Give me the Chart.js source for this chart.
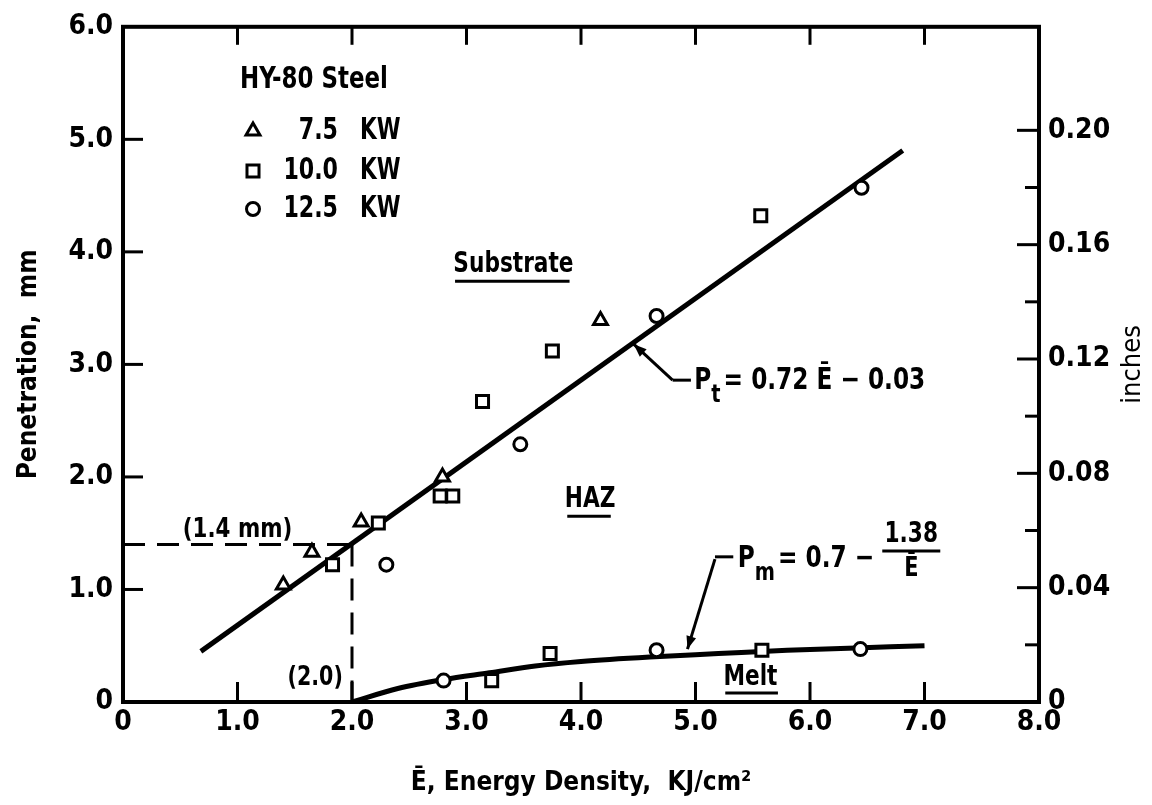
<!DOCTYPE html>
<html><head><meta charset="utf-8">
<script src="https://cdn.jsdelivr.net/npm/chart.js@4.4.1/dist/chart.umd.min.js"></script>
<style>html,body{margin:0;padding:0;background:#fff}#wrap{width:1152px;height:805px;position:relative}</style>
</head><body><div id="wrap"><canvas id="c" width="1152" height="805"></canvas></div>
<script>
// ---- data ----
const xTickValues = [0, 1, 2, 3, 4, 5, 6, 7, 8];
const yTickValues = [0, 1, 2, 3, 4, 5, 6];
const inchLabelTicks = [0, 0.04, 0.08, 0.12, 0.16, 0.20];
const inchMinorTicks = [0.02, 0.06, 0.10, 0.14, 0.18];

const triE = [1.40, 1.65, 2.08, 2.79, 4.17];
const triP = [1.04, 1.33, 1.60, 2.00, 3.39];
const sqE  = [1.83, 2.23, 2.77, 2.88, 3.14, 3.75, 5.57, 3.22, 3.73, 5.58];
const sqP  = [1.22, 1.59, 1.83, 1.83, 2.67, 3.12, 4.32, 0.19, 0.43, 0.46];
const cirE = [2.30, 3.47, 4.66, 6.45, 2.80, 4.66, 6.44];
const cirP = [1.22, 2.29, 3.43, 4.57, 0.19, 0.46, 0.47];

const fitTE = [0.68, 6.81];
const fitTP = [0.45, 4.90];
const fitME = [2.0, 2.4, 2.8, 3.2, 3.6, 4.0, 4.6, 5.2, 5.8, 6.4, 7.0];
const fitMP = [0.00, 0.12, 0.20, 0.26, 0.32, 0.36, 0.40, 0.43, 0.46, 0.48, 0.50];

const legendTitle = 'HY-80 Steel';
const legendNums = ['7.5', '10.0', '12.5'];
const legendUnit = 'KW';
const MM_PER_IN = 25.4;

// ---- helpers ----
const FONT = '"Liberation Sans Narrow", "DejaVu Sans Condensed", "Roboto", sans-serif';
const zip = (a, b) => a.map((v, i) => ({x: v, y: b[i]}));
const fmt1 = v => v === 0 ? '0' : v.toFixed(1);

function markerPath(ctx, style, x, y, r) {
  ctx.beginPath();
  if (style === 'triangle') {
    ctx.moveTo(x, y - r);
    ctx.lineTo(x + r * 0.866, y + r * 0.5);
    ctx.lineTo(x - r * 0.866, y + r * 0.5);
    ctx.closePath();
  } else if (style === 'rect') {
    const s = r * Math.SQRT1_2;
    ctx.rect(x - s, y - s, 2 * s, 2 * s);
  } else {
    ctx.arc(x, y, r, 0, Math.PI * 2);
  }
}

const decor = {
  id: 'decor',
  afterDraw(chart) {
    const {ctx, chartArea: a, scales} = chart;
    const X = v => scales.x.getPixelForValue(v);
    const Y = v => scales.y.getPixelForValue(v);
    const Y2 = v => scales.y2.getPixelForValue(v);
    const line = (x1, y1, x2, y2) => { ctx.beginPath(); ctx.moveTo(x1, y1); ctx.lineTo(x2, y2); ctx.stroke(); };
    // condensed text: horizontal scale k
    const text = (s, x, y, size, align, k) => {
      k = k || 0.86;
      ctx.save();
      ctx.font = 'bold ' + size + 'px ' + FONT;
      ctx.textAlign = align || 'left';
      ctx.textBaseline = 'middle';
      ctx.translate(x, y);
      ctx.scale(k, 1);
      ctx.fillText(s, 0, 0);
      const w = ctx.measureText(s).width * k;
      ctx.restore();
      return w;
    };
    const arrow = (x1, y1, x2, y2) => {
      line(x1, y1, x2, y2);
      const ang = Math.atan2(y2 - y1, x2 - x1), L = 13, W = 5;
      ctx.beginPath();
      ctx.moveTo(x2, y2);
      ctx.lineTo(x2 - L * Math.cos(ang) + W * Math.sin(ang), y2 - L * Math.sin(ang) - W * Math.cos(ang));
      ctx.lineTo(x2 - L * Math.cos(ang) - W * Math.sin(ang), y2 - L * Math.sin(ang) + W * Math.cos(ang));
      ctx.closePath(); ctx.fill();
    };
    ctx.save();
    ctx.strokeStyle = '#000'; ctx.fillStyle = '#000';

    // frame
    ctx.lineWidth = 4;
    ctx.strokeRect(a.left, a.top, a.right - a.left, a.bottom - a.top);

    // inward ticks
    ctx.lineWidth = 3;
    xTickValues.slice(1, -1).forEach(v => {
      line(X(v), a.bottom, X(v), a.bottom - 20);
      line(X(v), a.top, X(v), a.top + 18);
    });
    yTickValues.slice(1, -1).forEach(v => line(a.left, Y(v), a.left + 20, Y(v)));
    inchLabelTicks.slice(1).forEach(v => line(a.right, Y2(v), a.right - 22, Y2(v)));
    inchMinorTicks.forEach(v => line(a.right, Y2(v), a.right - 14, Y2(v)));

    // right axis title
    ctx.save();
    ctx.translate(1133, (a.top + a.bottom) / 2);
    ctx.rotate(-Math.PI / 2);
    ctx.font = '27px ' + FONT;
    ctx.textAlign = 'center'; ctx.textBaseline = 'middle';
    ctx.fillText('inches', 0, 0);
    ctx.restore();

    // dashed guide lines (1.4 mm at 2.0)
    ctx.lineWidth = 3;
    ctx.setLineDash([22, 12]);
    line(X(0), Y(1.4), X(2.0), Y(1.4));
    line(X(2.0), Y(1.4), X(2.0), Y(0));
    ctx.setLineDash([]);
    text('(1.4 mm)', X(1.0), Y(1.53), 27, 'center', 0.88);
    text('(2.0)', X(1.92), Y(0.21), 26, 'right', 0.88);

    // region labels with underline
    const under = (s, cx, cy, uy, x1, x2) => {
      text(s, X(cx), Y(cy), 28, 'center', 0.86);
      ctx.lineWidth = 3;
      line(X(x1), Y(uy), X(x2), Y(uy));
    };
    under('Substrate', 3.41, 3.89, 3.74, 2.90, 3.90);
    under('HAZ', 4.08, 1.80, 1.65, 3.88, 4.26);
    under('Melt', 5.48, 0.22, 0.08, 5.26, 5.72);

    // Pt equation
    ctx.lineWidth = 3;
    arrow(X(4.80), Y(2.86), X(4.46), Y(3.18));
    line(X(4.80), Y(2.86), X(4.96), Y(2.86));
    let px = X(4.99), py = Y(2.85);
    px += text('P', px, py, 30);
    px += text('t', px, py + 14, 25) + 3;
    px += text('= 0.72 ', px, py, 30);
    px += text('\u0112', px, py, 30);
    text(' \u2212 0.03', px, py, 30);

    // Pm equation
    arrow(X(5.17), Y(1.27), X(4.93), Y(0.47));
    line(X(5.17), Y(1.29), X(5.33), Y(1.29));
    px = X(5.37); py = Y(1.27);
    px += text('P', px, py, 30);
    px += text('m', px, py + 14, 25) + 3;
    px += text('= 0.7 \u2212 ', px, py, 30);
    const fw = 58, fc = px + fw / 2;
    text('1.38', fc, py - 24, 28, 'center');
    ctx.lineWidth = 3;
    line(px, py - 8, px + fw, py - 8);
    text('\u0112', fc, py + 10, 27, 'center');

    // legend
    text(legendTitle, 240, 80, 30, 'left', 0.85);
    const styles = ['triangle', 'rect', 'circle'];
    const radii = [8, 8.5, 6.5];
    const rowsY = [131, 171, 209];
    styles.forEach((st, i) => {
      ctx.lineWidth = 3;
      ctx.fillStyle = '#fff';
      markerPath(ctx, st, 253, rowsY[i], radii[i]);
      ctx.fill(); ctx.stroke();
      ctx.fillStyle = '#000';
      text(legendNums[i], 338, rowsY[i], 30, 'right', 0.82);
      text(legendUnit, 360, rowsY[i], 30, 'left', 0.8);
    });
    ctx.restore();
  }
};

const tickFont = {family: FONT, size: 28, weight: 'bold'};
const pointDs = (label, data, style, r) => ({
  type: 'scatter', label, data, pointStyle: style, pointRadius: r, pointHoverRadius: r,
  pointBorderWidth: 3, pointBackgroundColor: '#fff', pointBorderColor: '#000',
  showLine: false, order: 0
});

new Chart(document.getElementById('c'), {
  type: 'scatter',
  data: {
    datasets: [
      {type: 'line', label: 'Pt', data: zip(fitTE, fitTP), borderColor: '#000', borderWidth: 5,
       pointRadius: 0, fill: false, order: 5},
      {type: 'line', label: 'Pm', data: zip(fitME, fitMP), borderColor: '#000', borderWidth: 5,
       pointRadius: 0, fill: false, cubicInterpolationMode: 'monotone', order: 5},
      pointDs('7.5 KW', zip(triE, triP), 'triangle', 8),
      pointDs('10.0 KW', zip(sqE, sqP), 'rect', 8.5),
      pointDs('12.5 KW', zip(cirE, cirP), 'circle', 6.5)
    ]
  },
  options: {
    responsive: false,
    animation: false,
    events: [],
    layout: {padding: {top: 17, left: 0, right: 0, bottom: 0}},
    plugins: {legend: {display: false}, tooltip: {enabled: false}},
    scales: {
      x: {
        type: 'linear', position: 'bottom', min: 0, max: 8,
        afterBuildTicks: s => { s.ticks = xTickValues.map(v => ({value: v})); },
        afterFit: s => { s.height = 103; },
        ticks: {callback: fmt1, font: tickFont, color: '#000', padding: 4, maxRotation: 0, autoSkip: false},
        grid: {display: false, drawTicks: false},
        border: {display: false},
        title: {display: true, text: '\u0112, Energy Density,  KJ/cm\u00B2', color: '#000',
                font: {family: FONT, size: 26, weight: 'bold'}, padding: {top: 0, bottom: 6}}
      },
      y: {
        type: 'linear', position: 'left', min: 0, max: 6,
        afterBuildTicks: s => { s.ticks = yTickValues.map(v => ({value: v})); },
        afterFit: s => { s.width = 123; },
        ticks: {callback: fmt1, font: tickFont, color: '#000', padding: 10, autoSkip: false},
        grid: {display: false, drawTicks: false},
        border: {display: false},
        title: {display: true, text: 'Penetration,  mm', color: '#000',
                font: {family: FONT, size: 26, weight: 'bold'}, padding: {top: 14, bottom: 0}}
      },
      y2: {
        type: 'linear', position: 'right', min: 0, max: 6 / MM_PER_IN,
        afterBuildTicks: s => { s.ticks = inchLabelTicks.map(v => ({value: v})); },
        afterFit: s => { s.width = 113; },
        ticks: {callback: v => v === 0 ? '0' : v.toFixed(2), font: tickFont, color: '#000', padding: 9, autoSkip: false},
        grid: {display: false, drawTicks: false},
        border: {display: false}
      }
    }
  },
  plugins: [decor]
});
</script>
</body></html>
